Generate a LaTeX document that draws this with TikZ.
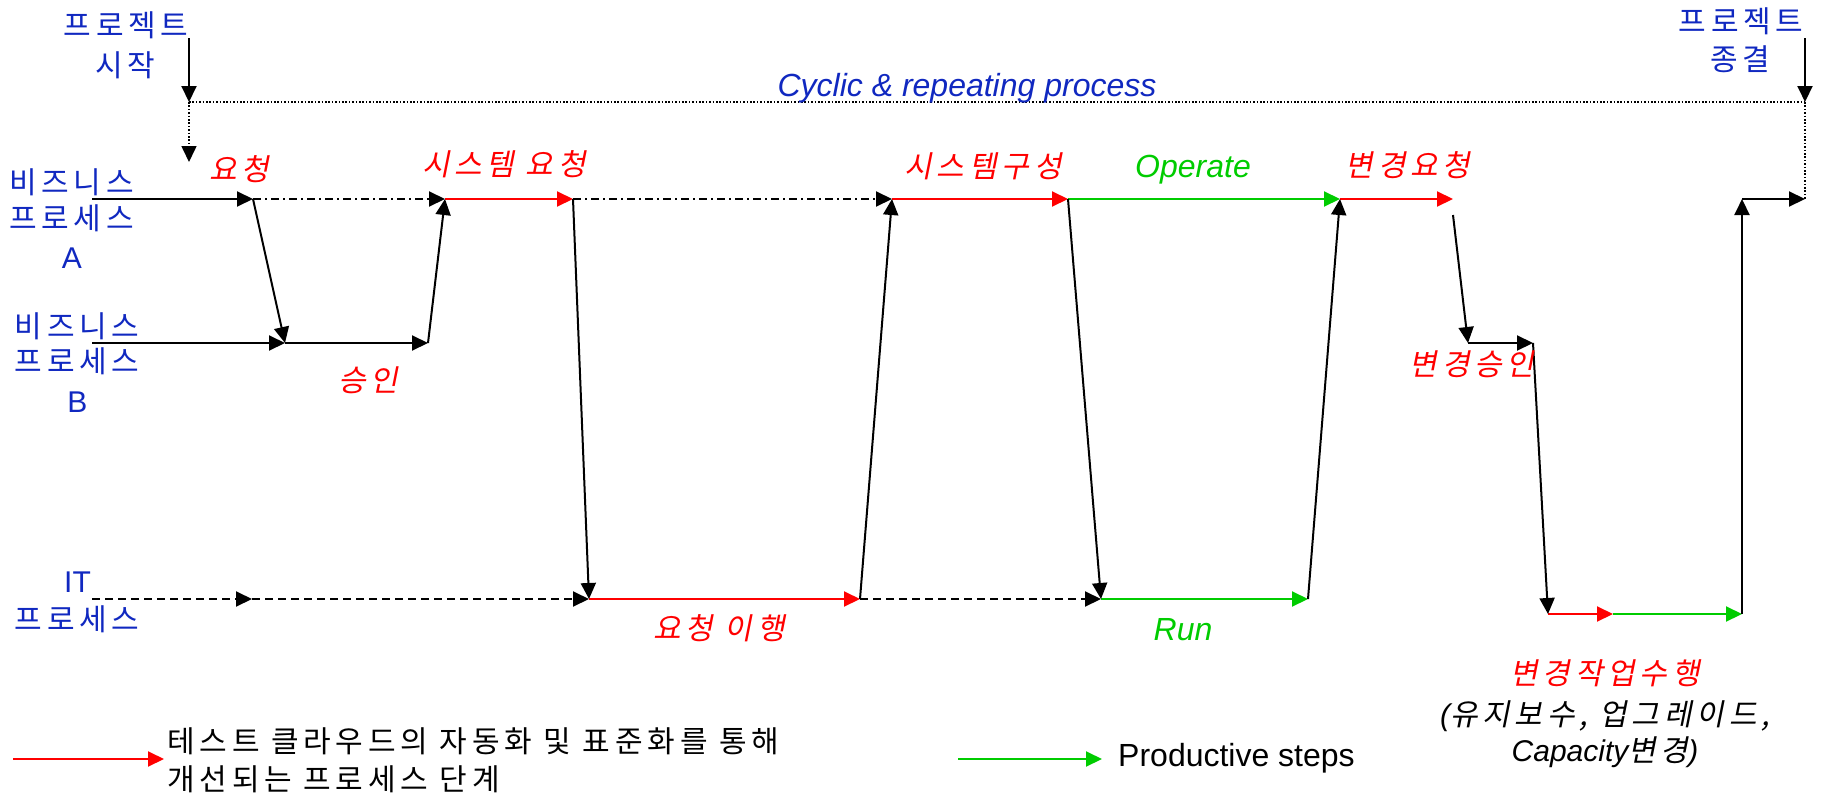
\documentclass[tikz,border=0pt]{standalone}
\usepackage{fontspec}
\setmainfont{Liberation Sans}
\newfontfamily\kr{Noto Sans CJK KR}[LetterSpace=16]
\newfontfamily\kri{Noto Sans CJK KR}[LetterSpace=16,FakeSlant=0.2]
\newfontfamily\lat{Liberation Sans}
\usetikzlibrary{arrows.meta}
\definecolor{myblue}{RGB}{16,40,192}
\definecolor{pgreen}{RGB}{0,204,0}
\definecolor{pred}{RGB}{255,0,0}
\tikzset{
  ln/.style={line width=2pt},
  arr/.style={ln, -{Triangle[length=16pt,width=15pt]}},
  blkarr/.style={arr, draw=black},
  redarr/.style={arr, draw=pred, -{Triangle[length=16pt,width=15pt,fill=pred]}},
  grnarr/.style={arr, draw=pgreen, -{Triangle[length=16pt,width=15pt,fill=pgreen]}},
  dashdot/.style={dash pattern=on 8pt off 4pt on 2pt off 4pt},
  dsh/.style={dash pattern=on 8pt off 5pt},
  dots/.style={line width=1.6pt, dash pattern=on 1.6pt off 1.8pt},
  bl/.style={text=myblue, inner sep=0pt, font=\fontsize{30}{34}\selectfont\kr},
  bll/.style={text=myblue, inner sep=0pt, anchor=base, font=\fontsize{30}{34}\selectfont},
  rl/.style={text=pred, inner sep=0pt, font=\fontsize{30}{34}\selectfont\kri},
  gl/.style={text=pgreen, inner sep=0pt, anchor=base, font=\fontsize{32}{36}\selectfont\itshape},
  kl/.style={text=black, inner sep=0pt, font=\fontsize{30}{36}\selectfont\kri},
  leg/.style={text=black, inner sep=0pt, anchor=west, font=\fontsize{30}{34}\selectfont\kr},
}
\begin{document}
\begin{tikzpicture}[x=1pt,y=-1pt]
\useasboundingbox (0,0) rectangle (1821,795);
% ---------- coordinates
\coordinate (s0) at (189,38);
\coordinate (s1) at (189,102);
\coordinate (sd) at (189,162);
\coordinate (e0) at (1805,38);
\coordinate (e1) at (1805,102);
\coordinate (a0) at (92,199);
\coordinate (a1) at (253,199);
\coordinate (a2) at (445,199);
\coordinate (a3) at (573,199);
\coordinate (a4) at (892,199);
\coordinate (a5) at (1068,199);
\coordinate (a6) at (1340,199);
\coordinate (a7) at (1453,199);
\coordinate (a7b) at (1453,215);
\coordinate (a8) at (1742,199);
\coordinate (a9) at (1805,199);
\coordinate (b0) at (92,343);
\coordinate (b1) at (285,343);
\coordinate (b2) at (428,343);
\coordinate (b3) at (1468,343);
\coordinate (b4) at (1533,343);
\coordinate (i0) at (92,599);
\coordinate (i1) at (252,599);
\coordinate (i2) at (589,599);
\coordinate (i3) at (860,599);
\coordinate (i4) at (1101,599);
\coordinate (i5) at (1308,599);
\coordinate (c0) at (1548,614);
\coordinate (c1) at (1613,614);
\coordinate (c2) at (1742,614);
\coordinate (l0) at (13,759);
\coordinate (l1) at (164,759);
\coordinate (g0) at (958,759);
\coordinate (g1) at (1102,759);
% ---------- top
\draw[blkarr] (s0) -- (s1);
\draw[blkarr] (e0) -- (e1);
\draw[dots] (s1) -- (e1);
\draw[dots] (e1) -- (a9);
\draw[dots, -{Triangle[length=16pt,width=15pt]}] (s1) -- (sd);
% ---------- row A
\draw[blkarr] (a0) -- (a1);
\draw[blkarr, dashdot] (a1) -- (a2);
\draw[redarr] (a2) -- (a3);
\draw[blkarr, dashdot] (a3) -- (a4);
\draw[redarr] (a4) -- (a5);
\draw[grnarr] (a5) -- (a6);
\draw[redarr] (a6) -- (a7);
\draw[blkarr] (a8) -- (a9);
% ---------- row B
\draw[blkarr] (b0) -- (b1);
\draw[blkarr] (b1) -- (b2);
\draw[blkarr] (b3) -- (b4);
% ---------- row IT
\draw[blkarr, dsh] (i0) -- (i1);
\draw[blkarr, dsh] (i1) -- (i2);
\draw[redarr] (i2) -- (i3);
\draw[blkarr, dsh] (i3) -- (i4);
\draw[grnarr] (i4) -- (i5);
% ---------- row C
\draw[redarr] (c0) -- (c1);
\draw[grnarr] (c1) -- (c2);
% ---------- transitions
\draw[blkarr] (a1) -- (b1);
\draw[blkarr] (b2) -- (a2);
\draw[blkarr] (a3) -- (i2);
\draw[blkarr] (i3) -- (a4);
\draw[blkarr] (a5) -- (i4);
\draw[blkarr] (i5) -- (a6);
\draw[blkarr] (a7b) -- (b3);
\draw[blkarr] (b4) -- (c0);
\draw[blkarr] (c2) -- (a8);
% ---------- legend arrows
\draw[redarr] (l0) -- (l1);
\draw[grnarr] (g0) -- (g1);
% ---------- labels
\node[bl] (ps1) at (126,25.5) {프로젝트};
\node[bl] (ps2) at (125,65.5) {시작};
\node[bl] (pe1) at (1741,21.5) {프로젝트};
\node[bl] (pe2) at (1740,59.5) {종결};
\node[text=myblue, inner sep=0pt, anchor=base, font=\fontsize{32}{36}\selectfont\itshape] (cyc) at (967,96.5) {Cyclic \& repeating process};
\node[bl] (ba1) at (71.5,182) {비즈니스};
\node[bl] (ba2) at (71.5,218.5) {프로세스};
\node[bll] (ba3) at (72,268) {A};
\node[bl] (bb1) at (77,326.5) {비즈니스};
\node[bl] (bb2) at (77,361.5) {프로세스};
\node[bll] (bb3) at (77.5,412) {B};
\node[bll] (it1) at (77.5,592) {IT};
\node[bl] (it2) at (77,619) {프로세스};
\node[rl] (r1) at (239,169.5) {요청};
\node[rl] (r2) at (504,164.5) {시스템 요청};
\node[rl] (r3) at (983,166.5) {시스템구성};
\node[rl] (r4) at (1408,165.5) {변경요청};
\node[rl] (r5) at (368,380.5) {승인};
\node[rl] (r6) at (1472,364.5) {변경승인};
\node[rl] (r7) at (719,628) {요청 이행};
\node[gl] (g1t) at (1193,177) {Operate};
\node[gl] (g2t) at (1183,640) {Run};
\node[kl, align=center] (r8) at (1605,714) {{\color{pred}변경작업수행}\\[5pt]{\itshape\lat(}유지보수, 업그레이드,\\{\itshape\lat Capacity}변경{\itshape\lat)}};
\node[leg] (lt1) at (167,741) {테스트 클라우드의 자동화 및 표준화를 통해};
\node[leg] (lt2) at (167,779) {개선되는 프로세스 단계};
\node[text=black, inner sep=0pt, anchor=base west, font=\fontsize{32}{36}\selectfont] (pst) at (1118,766) {Productive steps};
\end{tikzpicture}
\end{document}
